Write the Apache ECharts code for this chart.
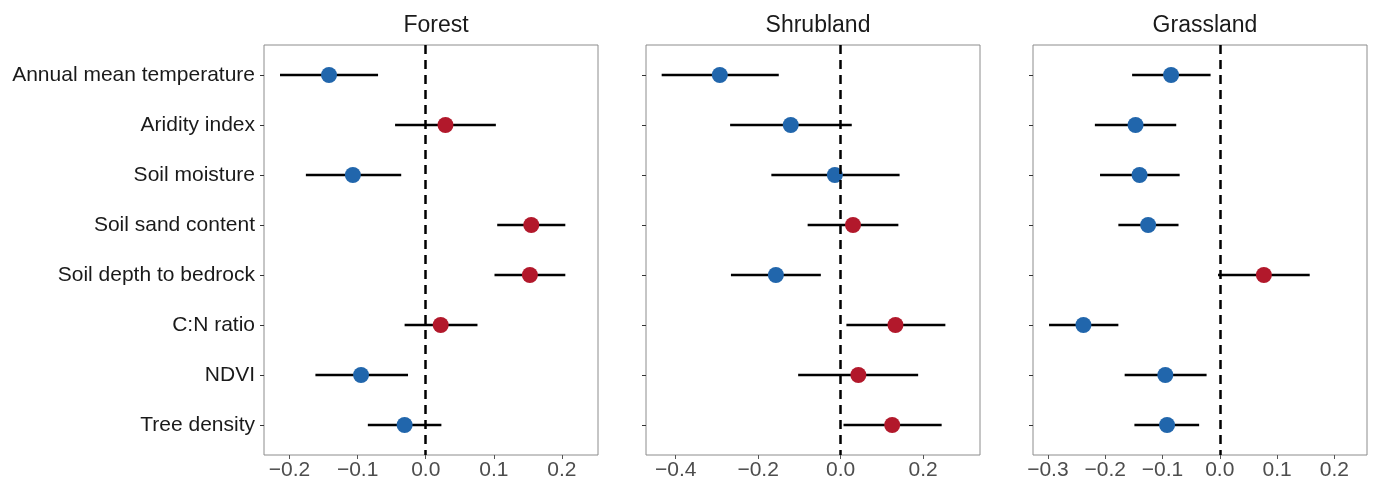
<!DOCTYPE html>
<html>
<head>
<meta charset="utf-8">
<script src="https://cdn.jsdelivr.net/npm/echarts@6/dist/echarts.min.js"></script>
<style>
  html, body {margin: 0; padding: 0; background: #fff;}
  #chart {width: 1377px; height: 484px;}
</style>
</head>
<body>
<div id="chart"></div>
<script>
// data
var categories = ['Annual mean temperature', 'Aridity index', 'Soil moisture', 'Soil sand content',
	'Soil depth to bedrock', 'C:N ratio', 'NDVI', 'Tree density'];
var panels = ['Forest', 'Shrubland', 'Grassland'];

var forest_est = [-0.142, 0.029, -0.107, 0.155, 0.153, 0.022, -0.095, -0.031];
var forest_lo = [-0.214, -0.045, -0.176, 0.105, 0.101, -0.031, -0.162, -0.085];
var forest_hi = [-0.070, 0.103, -0.036, 0.205, 0.205, 0.076, -0.026, 0.023];

var shrub_est = [-0.293, -0.121, -0.014, 0.030, -0.157, 0.133, 0.043, 0.125];
var shrub_lo = [-0.434, -0.268, -0.168, -0.080, -0.266, 0.014, -0.103, 0.007];
var shrub_hi = [-0.150, 0.027, 0.143, 0.140, -0.048, 0.254, 0.188, 0.245];

var grass_est = [-0.085, -0.147, -0.140, -0.125, 0.077, -0.238, -0.095, -0.092];
var grass_lo = [-0.153, -0.218, -0.209, -0.177, -0.003, -0.298, -0.166, -0.149];
var grass_hi = [-0.016, -0.076, -0.070, -0.072, 0.157, -0.177, -0.023, -0.036];

var x_ticks = [[-0.2, -0.1, 0, 0.1, 0.2], [-0.4, -0.2, 0, 0.2], [-0.3, -0.2, -0.1, 0, 0.1, 0.2]];
var x_range = [[-0.2375, 0.253], [-0.472, 0.338], [-0.326, 0.257]];

var est_all = [forest_est, shrub_est, grass_est];
var lo_all = [forest_lo, shrub_lo, grass_lo];
var hi_all = [forest_hi, shrub_hi, grass_hi];

var red = '#b2182b', blue = '#2166ac';
var font = '"Liberation Sans", Arial, Helvetica, sans-serif';
var lefts = [264, 646, 1033];
var row_ticks = [1, 2, 3, 4, 5, 6, 7, 8];

var myChart = echarts.init(document.getElementById('chart'));

var grids = [], xAxes = [], yAxes = [], titles = [], series = [];
for (var p = 0; p < 3; p++){
	grids.push({left: lefts[p], top: 45, width: 334, height: 410, show: true, borderColor: '#8c8c8c', borderWidth: 1, backgroundColor: '#fff'});
	titles.push({text: panels[p], left: lefts[p] + 167, top: 9, textAlign: 'center',
		textStyle: {fontFamily: font, fontSize: 23, fontWeight: 'normal', color: '#1a1a1a'}});
	xAxes.push({
		type: 'value', gridIndex: p, min: x_range[p][0], max: x_range[p][1],
		axisLine: {show: false, onZero: false}, splitLine: {show: false},
		axisTick: {show: true, length: 4, customValues: x_ticks[p], lineStyle: {color: '#555', width: 1}},
		axisLabel: {customValues: x_ticks[p], margin: 5, fontFamily: font, fontSize: 21, color: '#4d4d4d',
			formatter: function (v){ return (v < 0 ? '\u2212' : '') + Math.abs(v).toFixed(1); }}
	});
	yAxes.push({
		type: 'value', gridIndex: p, min: 0.4, max: 8.6, inverse: true,
		axisLine: {show: false, onZero: false}, splitLine: {show: false},
		axisTick: {show: true, length: 4, customValues: row_ticks, lineStyle: {color: '#333', width: 1}},
		axisLabel: {show: p == 0, customValues: row_ticks, margin: 9, fontFamily: font, fontSize: 21, color: '#1a1a1a',
			formatter: function (v){ return categories[Math.round(v) - 1]; }}
	});

	var bars = [], pts = [];
	for (var i = 0; i < categories.length; i++){
		bars.push([lo_all[p][i], hi_all[p][i], i + 1]);
		pts.push([est_all[p][i], i + 1]);
	}
	series.push({
		type: 'custom', xAxisIndex: p, yAxisIndex: p, data: bars, z: 2,
		renderItem: function (params, api){
			var a = api.coord([api.value(0), api.value(2)]);
			var b = api.coord([api.value(1), api.value(2)]);
			return {type: 'line', shape: {x1: a[0], y1: a[1], x2: b[0], y2: b[1]},
				style: {stroke: '#000', lineWidth: 2.5}};
		},
		encode: {x: [0, 1], y: 2},
		markLine: {
			silent: true, symbol: 'none', animation: false, label: {show: false},
			lineStyle: {color: '#000', width: 2.5, type: [9, 6]},
			data: [{xAxis: 0}]
		}
	});
	series.push({
		type: 'scatter', xAxisIndex: p, yAxisIndex: p, data: pts, z: 3,
		symbolSize: 16,
		itemStyle: {opacity: 1, color: function (params){ return params.value[0] > 0 ? red : blue; }}
	});
}

var options = {
	animation: false,
	title: titles,
	grid: grids,
	xAxis: xAxes,
	yAxis: yAxes,
	series: series
};

myChart.setOption(options);
</script>
</body>
</html>
